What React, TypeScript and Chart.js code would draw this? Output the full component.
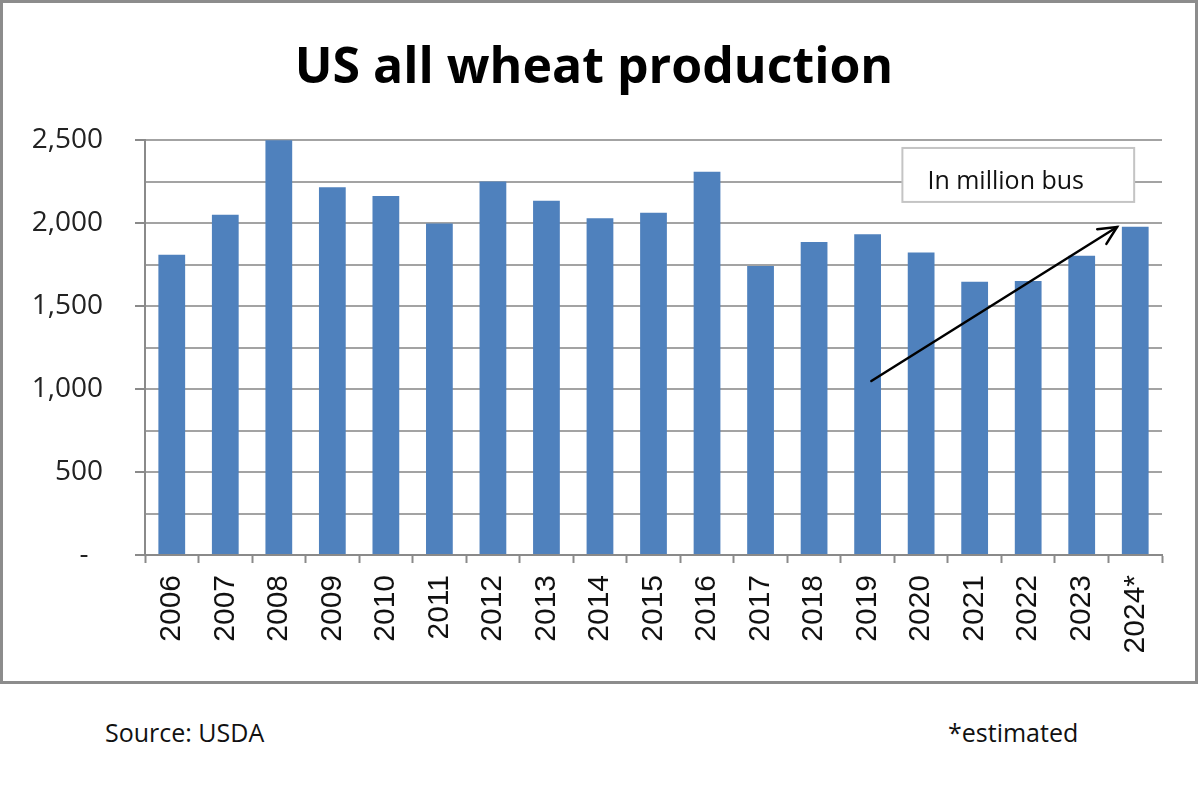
import React, { useEffect, useRef } from "react";
import { Chart, registerables } from "chart.js";

Chart.register(...registerables);

const titleText = "US all wheat production";
const years = ["2006", "2007", "2008", "2009", "2010", "2011", "2012", "2013", "2014", "2015", "2016", "2017", "2018", "2019", "2020", "2021", "2022", "2023", "2024*"];
const production = [1808, 2049, 2499, 2216, 2163, 1997, 2250, 2134, 2028, 2061, 2308, 1741, 1885, 1932, 1822, 1646, 1650, 1803, 1977];
const yMin = 0;
const yMax = 2500;
const yGridStep = 250;
const yLabelStep = 500;
const noteText = "In million bus";
const noteBox = { xFrom: 13.65, xTo: 17.98, yFrom: 2452, yTo: 2127 };
const arrowStart = { x: 13.07, y: 1048 };
const arrowEnd = { x: 17.66, y: 1976 };
const sourceText = "Source: USDA";
const estimatedText = "*estimated";

const FONT = "'Open Sans', 'DejaVu Sans', sans-serif";

const overlayPlugin = {
  id: "overlay",
  afterDatasetsDraw(chart: any) {
    const { ctx } = chart;
    const xs = chart.scales.x;
    const ys = chart.scales.y;
    const x0 = xs.getPixelForValue(0);
    const step = xs.getPixelForValue(1) - x0;
    const px = (i: number) => x0 + i * step;
    const py = (v: number) => ys.getPixelForValue(v);

    ctx.save();
    // note box
    const bx1 = px(noteBox.xFrom);
    const bx2 = px(noteBox.xTo);
    const by1 = py(noteBox.yFrom);
    const by2 = py(noteBox.yTo);
    ctx.fillStyle = "#ffffff";
    ctx.fillRect(bx1, by1, bx2 - bx1, by2 - by1);
    ctx.strokeStyle = "#c4c4c4";
    ctx.lineWidth = 2;
    ctx.strokeRect(bx1, by1, bx2 - bx1, by2 - by1);
    ctx.fillStyle = "#111111";
    ctx.font = `25px ${FONT}`;
    ctx.textAlign = "left";
    ctx.textBaseline = "alphabetic";
    ctx.fillText(noteText, bx1 + 25, by2 - 13);

    // arrow
    const sx = px(arrowStart.x);
    const sy = py(arrowStart.y);
    const ex = px(arrowEnd.x);
    const ey = py(arrowEnd.y);
    ctx.strokeStyle = "#000000";
    ctx.lineWidth = 2.5;
    ctx.lineCap = "round";
    ctx.beginPath();
    ctx.moveTo(sx, sy);
    ctx.lineTo(ex, ey);
    ctx.stroke();
    const ang = Math.atan2(ey - sy, ex - sx);
    const head = 20;
    const spread = Math.PI / 7;
    ctx.beginPath();
    ctx.moveTo(ex - head * Math.cos(ang - spread), ey - head * Math.sin(ang - spread));
    ctx.lineTo(ex, ey);
    ctx.lineTo(ex - head * Math.cos(ang + spread), ey - head * Math.sin(ang + spread));
    ctx.stroke();
    ctx.restore();
  },
};

export default function App() {
  const canvasRef = useRef<HTMLCanvasElement | null>(null);

  useEffect(() => {
    if (!canvasRef.current) return;
    const chart = new Chart(canvasRef.current, {
      type: "bar",
      data: {
        labels: years,
        datasets: [
          {
            data: production,
            backgroundColor: "#4f81bd",
            borderWidth: 0,
            barPercentage: 0.5,
            categoryPercentage: 1,
          },
        ],
      },
      options: {
        responsive: false,
        animation: false,
        devicePixelRatio: 1,
        layout: { padding: { left: 26, right: 38, top: 0, bottom: 0 } },
        plugins: {
          legend: { display: false },
          tooltip: { enabled: false },
          title: {
            display: true,
            text: titleText,
            color: "#000000",
            font: { family: FONT, size: 50, weight: "bold", lineHeight: 1.2 },
            padding: { top: 39, bottom: 41 },
          },
        },
        scales: {
          x: {
            offset: true,
            grid: {
              display: true,
              drawOnChartArea: false,
              drawTicks: true,
              tickLength: 8,
              tickColor: "#8a8a8a",
              tickWidth: 2,
              offset: true,
            },
            border: { display: true, color: "#8a8a8a", width: 2 },
            ticks: {
              autoSkip: false,
              minRotation: 90,
              maxRotation: 90,
              padding: 12,
              color: "#111111",
              font: { family: "'Liberation Sans', Arial, sans-serif", size: 30 },
            },
            afterFit: (scale: any) => {
              scale.height = 129;
            },
          },
          y: {
            min: yMin,
            max: yMax,
            grid: {
              color: "#a3a3a3",
              lineWidth: 2,
              drawTicks: true,
              tickLength: 10,
              tickWidth: 2,
              tickColor: (ctx: any) =>
                ctx.tick && ctx.tick.value % yLabelStep === 0 ? "#8a8a8a" : "rgba(0,0,0,0)",
            },
            border: { display: true, color: "#8a8a8a", width: 2 },
            ticks: {
              stepSize: yGridStep,
              autoSkip: false,
              padding: 32,
              color: "#222222",
              font: { family: FONT, size: 28 },
              callback: (value: any) => {
                const v = Number(value);
                if (v === 0) return "-  ";
                if (v % yLabelStep === 0) return v.toLocaleString("en-US");
                return "";
              },
            },
            afterFit: (scale: any) => {
              scale.width = 119;
            },
          },
        },
      } as any,
      plugins: [overlayPlugin],
    });
    return () => chart.destroy();
  }, []);

  return (
    <div style={{ position: "absolute", left: 0, top: 0, width: 1200, height: 800, background: "#ffffff" }}>
      <canvas
        ref={canvasRef}
        width={1200}
        height={684}
        style={{ position: "absolute", left: 0, top: 0, width: 1200, height: 684 }}
      />
      <div
        style={{
          position: "absolute",
          left: 0,
          top: 0,
          width: 1198,
          height: 684,
          boxSizing: "border-box",
          border: "3px solid #8c8c8c",
          pointerEvents: "none",
        }}
      />
      <div
        style={{
          position: "absolute",
          left: 105,
          top: 715,
          fontFamily: FONT,
          fontSize: 25,
          color: "#111111",
          whiteSpace: "nowrap",
        }}
      >
        {sourceText}
      </div>
      <div
        style={{
          position: "absolute",
          left: 948,
          top: 715,
          fontFamily: FONT,
          fontSize: 25,
          color: "#111111",
          whiteSpace: "nowrap",
        }}
      >
        {estimatedText}
      </div>
    </div>
  );
}
